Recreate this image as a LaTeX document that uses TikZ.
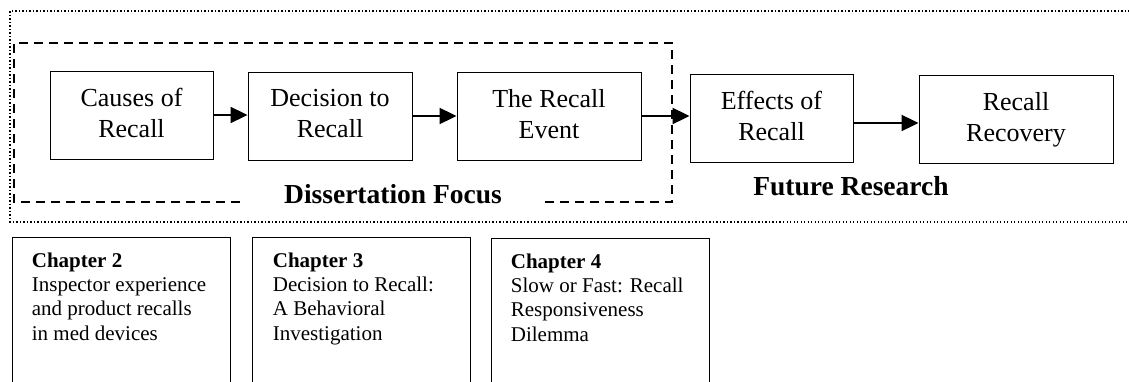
\documentclass[tikz,border=0pt]{standalone}
\usepackage{fontspec}
\setmainfont{Liberation Serif}
\usetikzlibrary{arrows.meta}

\tikzset{
  stage/.style={draw, line width=0.9pt, inner sep=0pt, align=center,
    font=\fontsize{26}{31}\selectfont, text depth=5pt},
  chapbox/.style={draw, line width=0.9pt, inner sep=0pt, anchor=north west,
    minimum width=218pt, minimum height=170pt},
  chaptext/.style={inner sep=0pt, anchor=north west, align=left,
    font=\fontsize{21}{24.3}\selectfont},
  flow/.style={line width=2pt, -{Triangle[length=17pt,width=16pt]}},
  focusframe/.style={line width=2pt, dash pattern=on 9pt off 6pt},
  scopeframe/.style={line width=1.5pt, dash pattern=on 1.3pt off 2.2pt},
  areatitle/.style={inner sep=0pt, anchor=base, font=\fontsize{27.5}{33}\selectfont\bfseries}
}

\begin{document}
\begin{tikzpicture}[x=1pt, y=-1pt]
\useasboundingbox (0,0) rectangle (1129,381);

% outer dotted frame (open to the right)
\draw[scopeframe] (1140,11) -- (10,11) -- (10,222) -- (1140,222);

% dashed frame round the dissertation stages, broken for its title
\draw[focusframe] (240,202) -- (14,202) -- (14,43) -- (672,43) -- (672,202) -- (542,202);

% recall stages
\node[stage, minimum width=163pt, minimum height=88pt] (causes)   at (131.5,115) {Causes of\\Recall};
\node[stage, minimum width=164pt, minimum height=88pt] (decision) at (330,116)   {Decision to\\Recall};
\node[stage, minimum width=184pt, minimum height=88pt] (event)    at (549,116)   {The Recall\\Event};
\node[stage, minimum width=163pt, minimum height=88pt] (effects)  at (771.5,118) {Effects of\\Recall};
\node[stage, minimum width=194pt, minimum height=88pt] (recovery) at (1016,119)  {Recall\\Recovery};

\draw[flow] (causes.east)   -- (causes.east -| decision.west);
\draw[flow] (decision.east) -- (decision.east -| event.west);
\draw[flow] (event.east)    -- (event.east -| effects.west);
\draw[flow] ([yshift=-5pt]effects.east) -- ([yshift=-5pt]effects.east -| recovery.west);

% area titles
\node[areatitle] (focus)  at (393,203) {Dissertation Focus};
\node[areatitle] (future) at (851,195) {Future Research};

% chapter boxes
\node[chapbox] (ch2) at (12,237)  {};
\node[chapbox] (ch3) at (252,237) {};
\node[chapbox] (ch4) at (491,238) {};

\node[chaptext] (ch2t) at (31.7,252.5)  {\textbf{Chapter 2}\\Inspector experience\\and product recalls\\in med devices};
\node[chaptext] (ch3t) at (272.7,252.5) {\textbf{Chapter 3}\\Decision to Recall:\\A Behavioral\\Investigation};
\node[chaptext] (ch4t) at (510.7,253.5) {\textbf{Chapter 4}\\Slow or Fast: Recall\\Responsiveness\\Dilemma};
\end{tikzpicture}
\end{document}
